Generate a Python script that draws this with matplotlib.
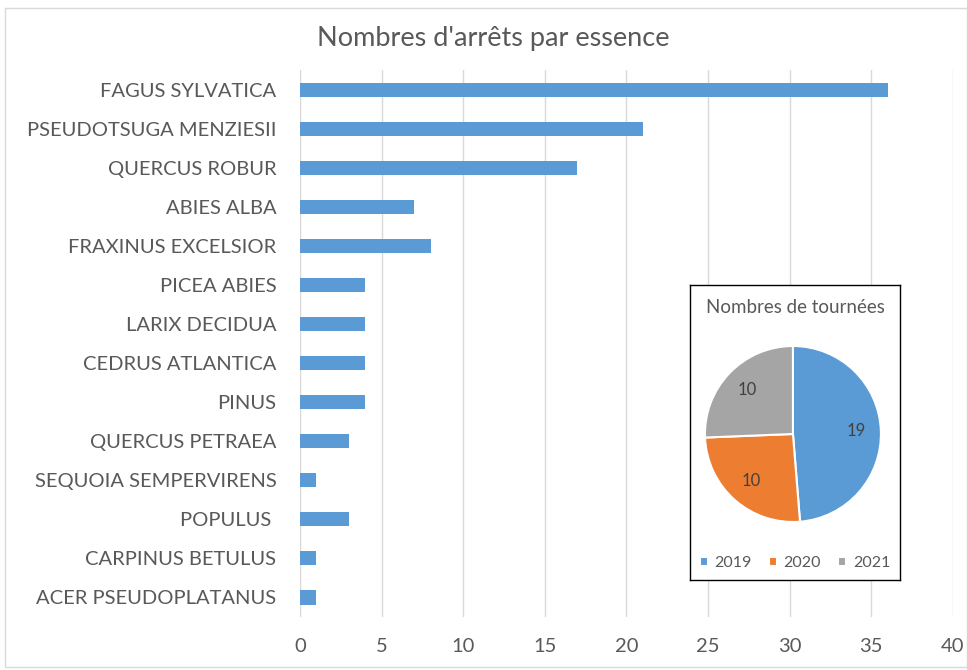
import matplotlib.pyplot as plt
from matplotlib.patches import Rectangle

plt.rcParams['font.family'] = ['Lato', 'DejaVu Sans']

especes = ["FAGUS SYLVATICA", "PSEUDOTSUGA MENZIESII", "QUERCUS ROBUR", "ABIES ALBA",
           "FRAXINUS EXCELSIOR", "PICEA ABIES", "LARIX DECIDUA", "CEDRUS ATLANTICA",
           "PINUS", "QUERCUS PETRAEA", "SEQUOIA SEMPERVIRENS", "POPULUS ",
           "CARPINUS BETULUS", "ACER PSEUDOPLATANUS"]
arrets = [36, 21, 17, 7, 8, 4, 4, 4, 4, 3, 1, 3, 1, 1]

annees = ["2019", "2020", "2021"]
tournees = [19, 10, 10]

bleu = "#5B9BD5"
texte = "#595959"

fig = plt.figure(figsize=(9.67, 6.7), dpi=100)
fig.patches.append(Rectangle((0.005, 0.005), 0.995, 0.983, transform=fig.transFigure,
                             fill=False, edgecolor="#D9D9D9", linewidth=1))

ax = fig.add_axes([0.3102, 0.0791, 0.6753, 0.8164])
pos = list(range(len(especes)))
ax.barh(pos, arrets, height=0.36, color=bleu, zorder=3)
ax.set_ylim(len(especes) - 0.5, -0.5)
ax.set_xlim(0, 40)
ax.set_xticks(range(0, 41, 5))
ax.set_yticks(pos)
ax.set_yticklabels(especes)
ax.grid(axis="x", color="#D9D9D9", linewidth=1, zorder=0)
for s in ax.spines.values():
    s.set_visible(False)
ax.tick_params(length=0, labelsize=14.5, colors=texte)
ax.tick_params(axis="y", pad=17)
ax.tick_params(axis="x", pad=15)
fig.text(0.51, 0.943, "Nombres d'arrêts par essence", ha="center", va="center",
         fontsize=19.5, color=texte)

# encart camembert
box = fig.add_axes([0.7135, 0.1343, 0.2172, 0.4403])
box.set_xticks([])
box.set_yticks([])
box.set_facecolor("white")
for s in box.spines.values():
    s.set_edgecolor("black")
    s.set_linewidth(1)
box.set_zorder(5)
box.text(0.5, 0.925, "Nombres de tournées", transform=box.transAxes, ha="center",
         va="center", fontsize=13.5, color=texte)

pax = fig.add_axes([0.729, 0.2209, 0.182, 0.2627])
pax.set_zorder(6)
wedges, _, autotexts = pax.pie(tournees, colors=[bleu, "#ED7D31", "#A5A5A5"],
                               startangle=90, counterclock=False,
                               autopct=lambda p: "%d" % round(p * sum(tournees) / 100),
                               pctdistance=0.72,
                               wedgeprops=dict(edgecolor="white", linewidth=1.5))
for t in autotexts:
    t.set_color("#404040")
    t.set_fontsize(12)
pax.set_xlim(-1, 1)
pax.set_ylim(-1, 1)
pax.set_aspect("equal")

leg = box.legend(wedges, annees, loc="lower center", bbox_to_anchor=(0.5, -0.015),
                 ncol=3, frameon=False, fontsize=11.5, handlelength=0.5, handleheight=0.5,
                 handletextpad=0.4, columnspacing=1.1, labelcolor=texte)

fig.savefig("out.png", dpi=100)
